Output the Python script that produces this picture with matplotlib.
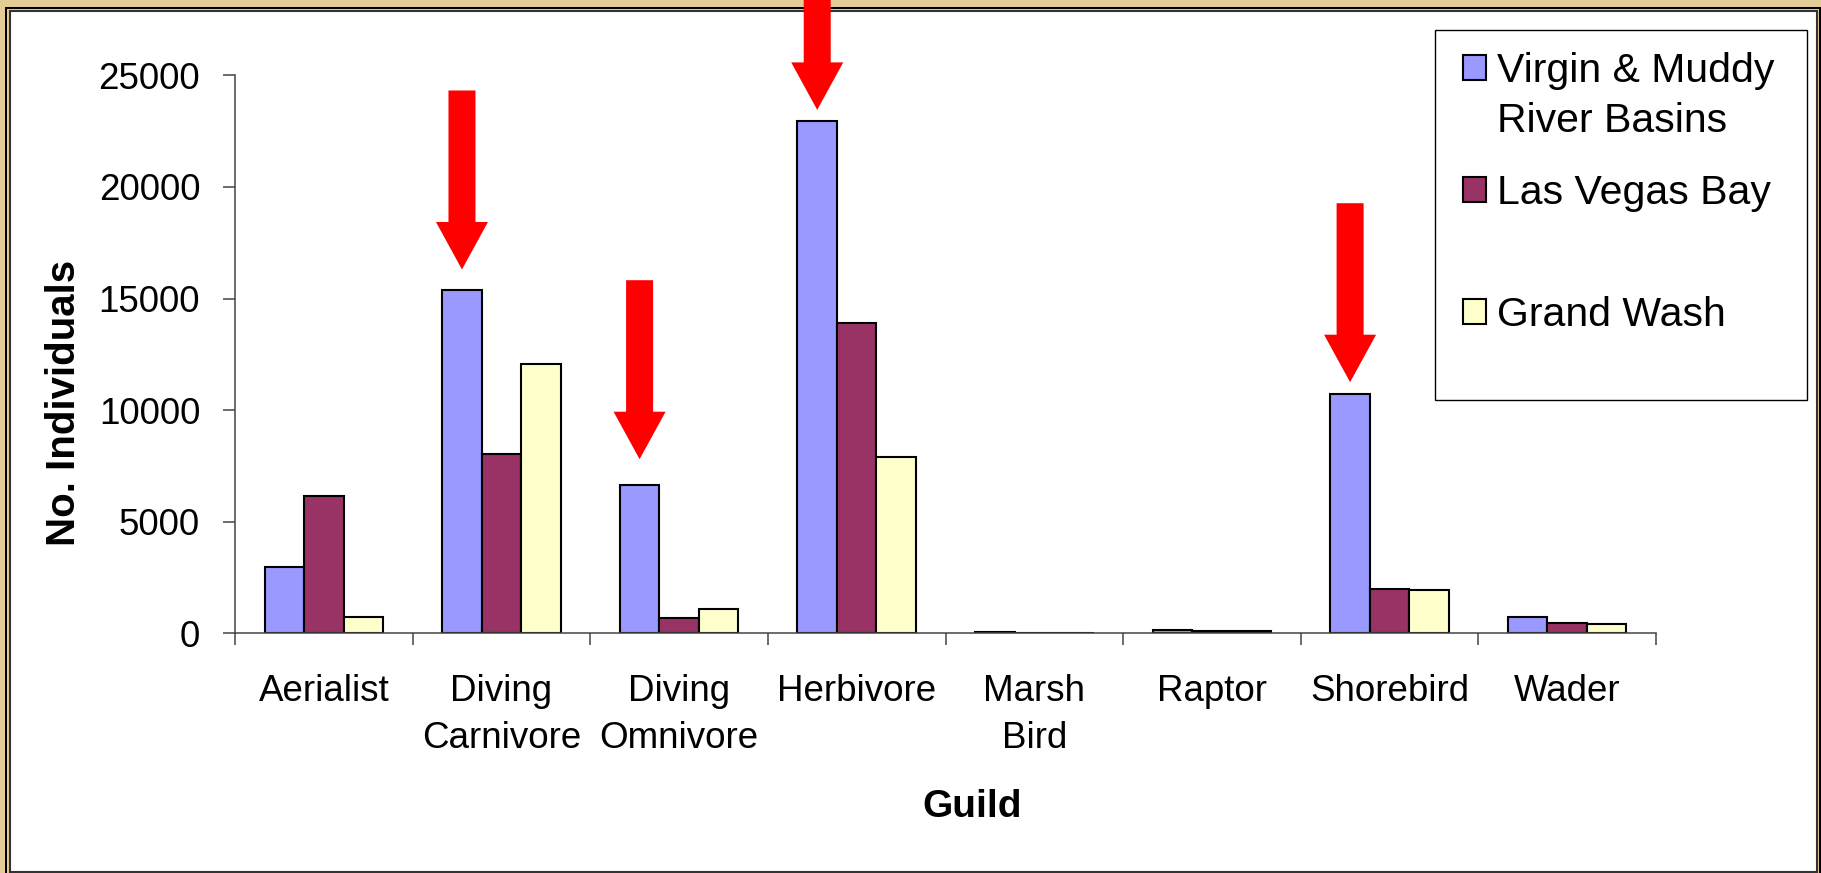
import numpy as np
import matplotlib
matplotlib.use("Agg")
import matplotlib.pyplot as plt
from matplotlib.patches import Rectangle, Polygon
from matplotlib.transforms import ScaledTranslation

plt.rcParams["font.family"] = ["Liberation Sans", "DejaVu Sans"]

# --- data ---
guilds = ["Aerialist", "Diving\nCarnivore", "Diving\nOmnivore", "Herbivore",
          "Marsh\nBird", "Raptor", "Shorebird", "Wader"]
virgin_muddy = [2950, 15400, 6650, 22950, 70, 160, 10700, 720]
las_vegas_bay = [6150, 8050, 700, 13900, 15, 115, 2000, 470]
grand_wash = [740, 12050, 1100, 7900, 10, 115, 1950, 430]
series_names = ["Virgin & Muddy", "Las Vegas Bay", "Grand Wash"]
series_colors = ["#9999FF", "#993366", "#FFFFCC"]
yticks = [0, 5000, 10000, 15000, 20000, 25000]

# red arrows point at the Virgin & Muddy bar of these guilds
arrow_guilds = [1, 2, 3, 6]
arrow_tips = [16300, 7800, 23450, 11250]

W, H, DPI = 1821, 873, 100
fig = plt.figure(figsize=(W / DPI, H / DPI), dpi=DPI)
fig.patch.set_facecolor("white")


def px_rect(x0, y0, x1, y1, **kw):
    # rectangle given in pixel coords, y measured from the top
    return Rectangle((x0 / W, 1 - y1 / H), (x1 - x0) / W, (y1 - y0) / H,
                     transform=fig.transFigure, **kw)


# gold picture frame
gold = "#E4CC96"
fig.patches.append(px_rect(0, 0, W, H, facecolor=gold, edgecolor="none", zorder=-20))
fig.patches.append(px_rect(5, 7, W + 5, H + 5, facecolor="black", edgecolor="none", zorder=-19))
fig.patches.append(px_rect(7, 9, 1819, H + 5, facecolor=gold, edgecolor="none", zorder=-18))
fig.patches.append(px_rect(10, 11, 1817, 872, facecolor="white", edgecolor="#333333",
                           linewidth=1.5, zorder=-17))
# legend box
fig.patches.append(px_rect(1435, 30, 1807, 400, facecolor="white", edgecolor="black",
                           linewidth=1.0, zorder=-16))

ax = fig.add_axes([235 / W, 1 - 633.3 / H, 1421 / W, (633.3 - 75.3) / H])
ax.set_facecolor("none")

x = np.arange(len(guilds))
bw = 0.2222
for i, (vals, name, col) in enumerate(zip([virgin_muddy, las_vegas_bay, grand_wash],
                                          series_names, series_colors)):
    ax.bar(x + (i - 1) * bw, vals, width=bw, color=col, edgecolor="black",
           linewidth=1.5, label=name, zorder=2)

ax.set_xlim(-0.5, len(guilds) - 0.5)
ax.set_ylim(0, 25000)
ax.set_yticks(yticks)
ax.set_yticklabels([str(v) for v in yticks])
ax.set_xticks(np.arange(-0.5, len(guilds)), labels=[])
ax.set_xticks(x, labels=guilds, minor=True)
ax.tick_params(axis="x", which="major", length=8.6, width=1.1, color="#444444")
ax.tick_params(axis="x", which="minor", length=0, pad=29, labelsize=26.5)
for lab in ax.get_xticklabels(minor=True):
    lab.set_linespacing(1.46)
ax.tick_params(axis="y", length=8.6, width=1.1, color="#444444", pad=16.5, labelsize=26.5)
for s in ["top", "right"]:
    ax.spines[s].set_visible(False)
for s in ["left", "bottom"]:
    ax.spines[s].set_color("#444444")
    ax.spines[s].set_linewidth(1.1)

ax.set_ylabel("No. Individuals", fontsize=29, fontweight="bold", va="center")
ax.yaxis.set_label_coords(-0.120, 0.413)
ax.set_xlabel("Guild", fontsize=28, fontweight="bold", va="center")
ax.xaxis.set_label_coords(0.519, -0.311)

# legend (Excel style: marker beside first line of each entry)
leg = ax.legend(loc="upper left", bbox_to_anchor=(1463 / W, 1 - 52 / H),
                bbox_transform=fig.transFigure, frameon=False, fontsize=29.5,
                borderpad=0, borderaxespad=0, handlelength=0.57, handleheight=0.57,
                handletextpad=0.27, labelspacing=2.05)
ax.annotate("River Basins", xy=(0, 0), xycoords=leg.get_texts()[0],
            xytext=(0, -50), textcoords="offset pixels", fontsize=29.5,
            va="bottom", ha="left", zorder=6)

# red arrows
shaft, head_w, head_l, length = 13.5, 26, 47.5, 179
verts = np.array([(0, 0), (-head_w, head_l), (-shaft, head_l), (-shaft, length),
                  (shaft, length), (shaft, head_l), (head_w, head_l)]) / DPI
for g, tip in zip(arrow_guilds, arrow_tips):
    tr = fig.dpi_scale_trans + ScaledTranslation(x[g] - bw, tip, ax.transData)
    ax.add_patch(Polygon(verts, closed=True, facecolor="#FF0000", edgecolor="none",
                         transform=tr, clip_on=False, zorder=10))

fig.savefig("out.png", dpi=DPI)
